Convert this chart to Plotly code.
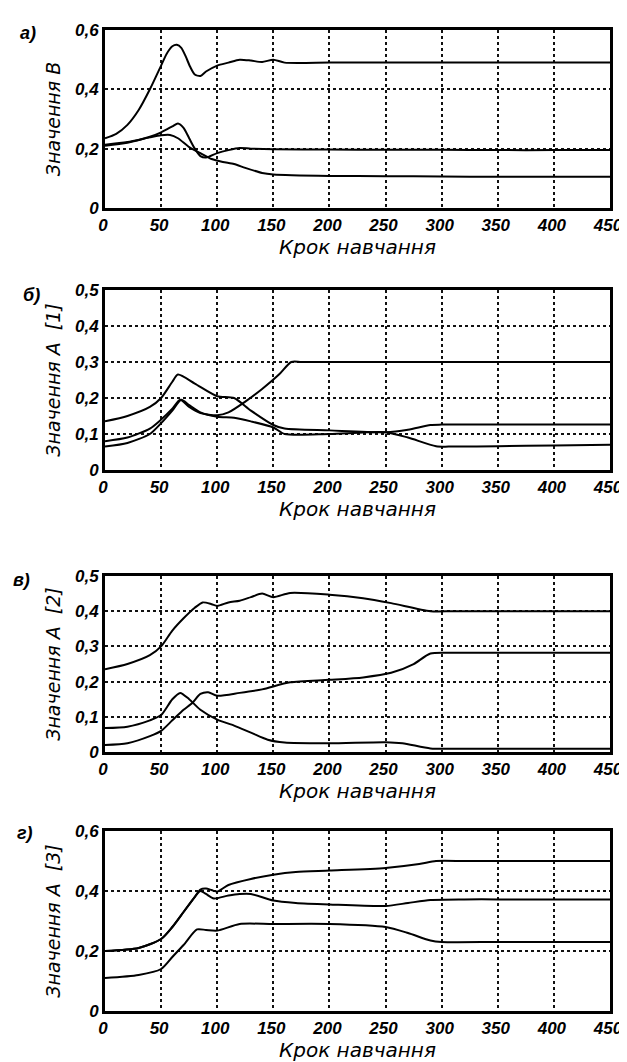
import plotly.graph_objects as go

# ---------------- data ----------------
# Panel а) Значення B
a1_t = [0, 10, 20, 30, 40, 50, 55, 60, 64, 68, 72, 76, 80, 85, 90, 100, 110, 120, 130, 140, 150, 160, 200, 250, 300, 350, 400, 450]
a1_v = [0.235, 0.25, 0.28, 0.33, 0.40, 0.48, 0.52, 0.545, 0.55, 0.54, 0.51, 0.475, 0.45, 0.445, 0.46, 0.48, 0.49, 0.50, 0.497, 0.492, 0.50, 0.49, 0.49, 0.49, 0.49, 0.49, 0.49, 0.49]
a2_t = [0, 20, 40, 50, 60, 65, 70, 75, 80, 85, 90, 100, 110, 120, 130, 150, 200, 250, 300, 350, 400, 450]
a2_v = [0.21, 0.22, 0.24, 0.255, 0.275, 0.285, 0.27, 0.235, 0.20, 0.175, 0.17, 0.185, 0.195, 0.202, 0.20, 0.198, 0.197, 0.196, 0.196, 0.195, 0.195, 0.195]
a3_t = [0, 20, 40, 50, 58, 65, 75, 85, 95, 105, 115, 125, 140, 150, 200, 250, 300, 350, 400, 450]
a3_v = [0.213, 0.222, 0.238, 0.245, 0.246, 0.235, 0.205, 0.185, 0.165, 0.155, 0.148, 0.135, 0.118, 0.113, 0.108, 0.107, 0.106, 0.105, 0.105, 0.105]

# Panel б) Значення A [1]
b1_t = [0, 20, 40, 50, 60, 65, 80, 100, 115, 130, 150, 160, 200, 250, 270, 290, 300, 350, 400, 450]
b1_v = [0.135, 0.15, 0.175, 0.20, 0.245, 0.265, 0.24, 0.205, 0.20, 0.165, 0.125, 0.115, 0.11, 0.105, 0.112, 0.125, 0.126, 0.126, 0.126, 0.126]
b2_t = [0, 20, 40, 50, 60, 67, 75, 85, 100, 110, 125, 140, 155, 166, 175, 200, 250, 300, 350, 400, 450]
b2_v = [0.08, 0.09, 0.115, 0.14, 0.17, 0.195, 0.175, 0.158, 0.152, 0.16, 0.19, 0.225, 0.265, 0.30, 0.30, 0.30, 0.30, 0.30, 0.30, 0.30, 0.30]
b3_t = [0, 20, 40, 50, 60, 68, 75, 85, 100, 115, 130, 150, 160, 200, 250, 270, 295, 310, 350, 400, 450]
b3_v = [0.065, 0.075, 0.10, 0.13, 0.165, 0.195, 0.18, 0.16, 0.148, 0.145, 0.135, 0.118, 0.10, 0.10, 0.105, 0.09, 0.066, 0.065, 0.066, 0.068, 0.07]

# Panel в) Значення A [2]
c1_t = [0, 20, 40, 50, 60, 70, 80, 87, 95, 100, 110, 120, 130, 140, 150, 165, 200, 230, 255, 290, 310, 350, 400, 450]
c1_v = [0.235, 0.25, 0.275, 0.30, 0.345, 0.38, 0.41, 0.425, 0.42, 0.415, 0.425, 0.43, 0.44, 0.45, 0.44, 0.452, 0.447, 0.437, 0.423, 0.40, 0.40, 0.40, 0.40, 0.40]
c2_t = [0, 20, 40, 50, 60, 67, 75, 85, 100, 115, 130, 145, 160, 200, 250, 265, 290, 310, 350, 400, 450]
c2_v = [0.068, 0.072, 0.09, 0.105, 0.15, 0.168, 0.15, 0.12, 0.092, 0.075, 0.055, 0.035, 0.027, 0.025, 0.028, 0.025, 0.01, 0.009, 0.009, 0.009, 0.009]
c3_t = [0, 20, 40, 50, 60, 70, 78, 85, 92, 100, 120, 140, 165, 200, 230, 255, 275, 290, 310, 350, 400, 450]
c3_v = [0.02, 0.025, 0.045, 0.06, 0.09, 0.12, 0.14, 0.165, 0.17, 0.16, 0.168, 0.178, 0.198, 0.205, 0.212, 0.225, 0.25, 0.28, 0.282, 0.282, 0.282, 0.282]

# Panel г) Значення A [3]
d1_t = [0, 30, 50, 60, 70, 80, 85, 90, 95, 100, 110, 130, 150, 170, 200, 250, 280, 295, 320, 350, 400, 450]
d1_v = [0.20, 0.21, 0.24, 0.28, 0.33, 0.38, 0.405, 0.408, 0.403, 0.398, 0.42, 0.44, 0.454, 0.463, 0.468, 0.477, 0.49, 0.50, 0.50, 0.50, 0.50, 0.50]
d2_t = [0, 30, 50, 60, 70, 80, 85, 90, 97, 110, 120, 130, 150, 170, 200, 250, 270, 290, 320, 350, 400, 450]
d2_v = [0.20, 0.21, 0.24, 0.28, 0.33, 0.38, 0.40, 0.39, 0.375, 0.385, 0.39, 0.39, 0.368, 0.36, 0.355, 0.35, 0.36, 0.37, 0.372, 0.372, 0.372, 0.372]
d3_t = [0, 30, 50, 60, 70, 82, 90, 100, 120, 150, 200, 250, 270, 290, 300, 350, 400, 450]
d3_v = [0.11, 0.12, 0.14, 0.18, 0.22, 0.272, 0.27, 0.268, 0.29, 0.29, 0.29, 0.28, 0.26, 0.235, 0.23, 0.23, 0.23, 0.23]

x_title = "Крок навчання"
y_titles = ["Значення B", "Значення A  [1]", "Значення A  [2]", "Значення A  [3]"]
panel_labels = ["а)", "б)", "в)", "г)"]
y_ranges = [[0, 0.6], [0, 0.5], [0, 0.5], [0, 0.6]]
y_dticks = [0.2, 0.1, 0.1, 0.2]
domains = [[0.8186, 1.0], [0.5515, 0.735], [0.264, 0.4434], [0.0, 0.1835]]
label_pos = [(-0.152, 1.009), (-0.145, 0.742), (-0.165, 0.4516), (-0.158, 0.1937)]

panels = [
    [(a1_t, a1_v), (a2_t, a2_v), (a3_t, a3_v)],
    [(b1_t, b1_v), (b2_t, b2_v), (b3_t, b3_v)],
    [(c1_t, c1_v), (c2_t, c2_v), (c3_t, c3_v)],
    [(d1_t, d1_v), (d2_t, d2_v), (d3_t, d3_v)],
]

fig = go.Figure()
TFONT = "Liberation Sans, Arial, sans-serif"
LFONT = "DejaVu Sans, sans-serif"
tickfont = dict(family=TFONT, size=17, color="black", style="italic", weight="bold")
xtitlefont = dict(family=LFONT, size=20, color="black", style="italic")
ytitlefont = dict(family=LFONT, size=19, color="black", style="italic")

layout = dict(
    width=627, height=1062,
    margin=dict(l=97, r=12, t=22, b=59),
    paper_bgcolor="white", plot_bgcolor="white",
    showlegend=False,
    separators=", ",
    annotations=[],
)

for i, series in enumerate(panels):
    n = i + 1
    xa = "x" if n == 1 else f"x{n}"
    ya = "y" if n == 1 else f"y{n}"
    for t, v in series:
        fig.add_trace(go.Scatter(x=t, y=v, mode="lines", xaxis=xa, yaxis=ya,
                                 line=dict(color="black", width=2, shape="spline", smoothing=0.7),
                                 hoverinfo="skip"))
    xkey = "xaxis" if n == 1 else f"xaxis{n}"
    ykey = "yaxis" if n == 1 else f"yaxis{n}"
    layout[xkey] = dict(
        domain=[0, 1], anchor=ya, range=[0, 450], dtick=50, tick0=0,
        showgrid=True, gridcolor="#111", gridwidth=1.6, griddash="dot",
        showline=True, linecolor="black", linewidth=3, mirror=True,
        ticks="", tickfont=tickfont, zeroline=False, ticklabelshift=-2,
        title=dict(text=x_title, font=xtitlefont, standoff=6),
    )
    layout[ykey] = dict(
        domain=domains[i], anchor=xa, range=y_ranges[i], dtick=y_dticks[i], tick0=0,
        showgrid=True, gridcolor="#111", gridwidth=1.6, griddash="dot",
        showline=True, linecolor="black", linewidth=3, mirror=True,
        ticks="", tickfont=tickfont, zeroline=False,
        title=dict(text=y_titles[i], font=ytitlefont, standoff=10),
    )
    lx, ly = label_pos[i]
    layout["annotations"].append(dict(
        text=panel_labels[i], xref="paper", yref="paper", x=lx, y=ly,
        xanchor="center", yanchor="top", showarrow=False,
        font=dict(family=TFONT, size=18, color="black", style="italic", weight="bold"),
    ))

fig.update_layout(**layout)
fig.write_html("out.html")
